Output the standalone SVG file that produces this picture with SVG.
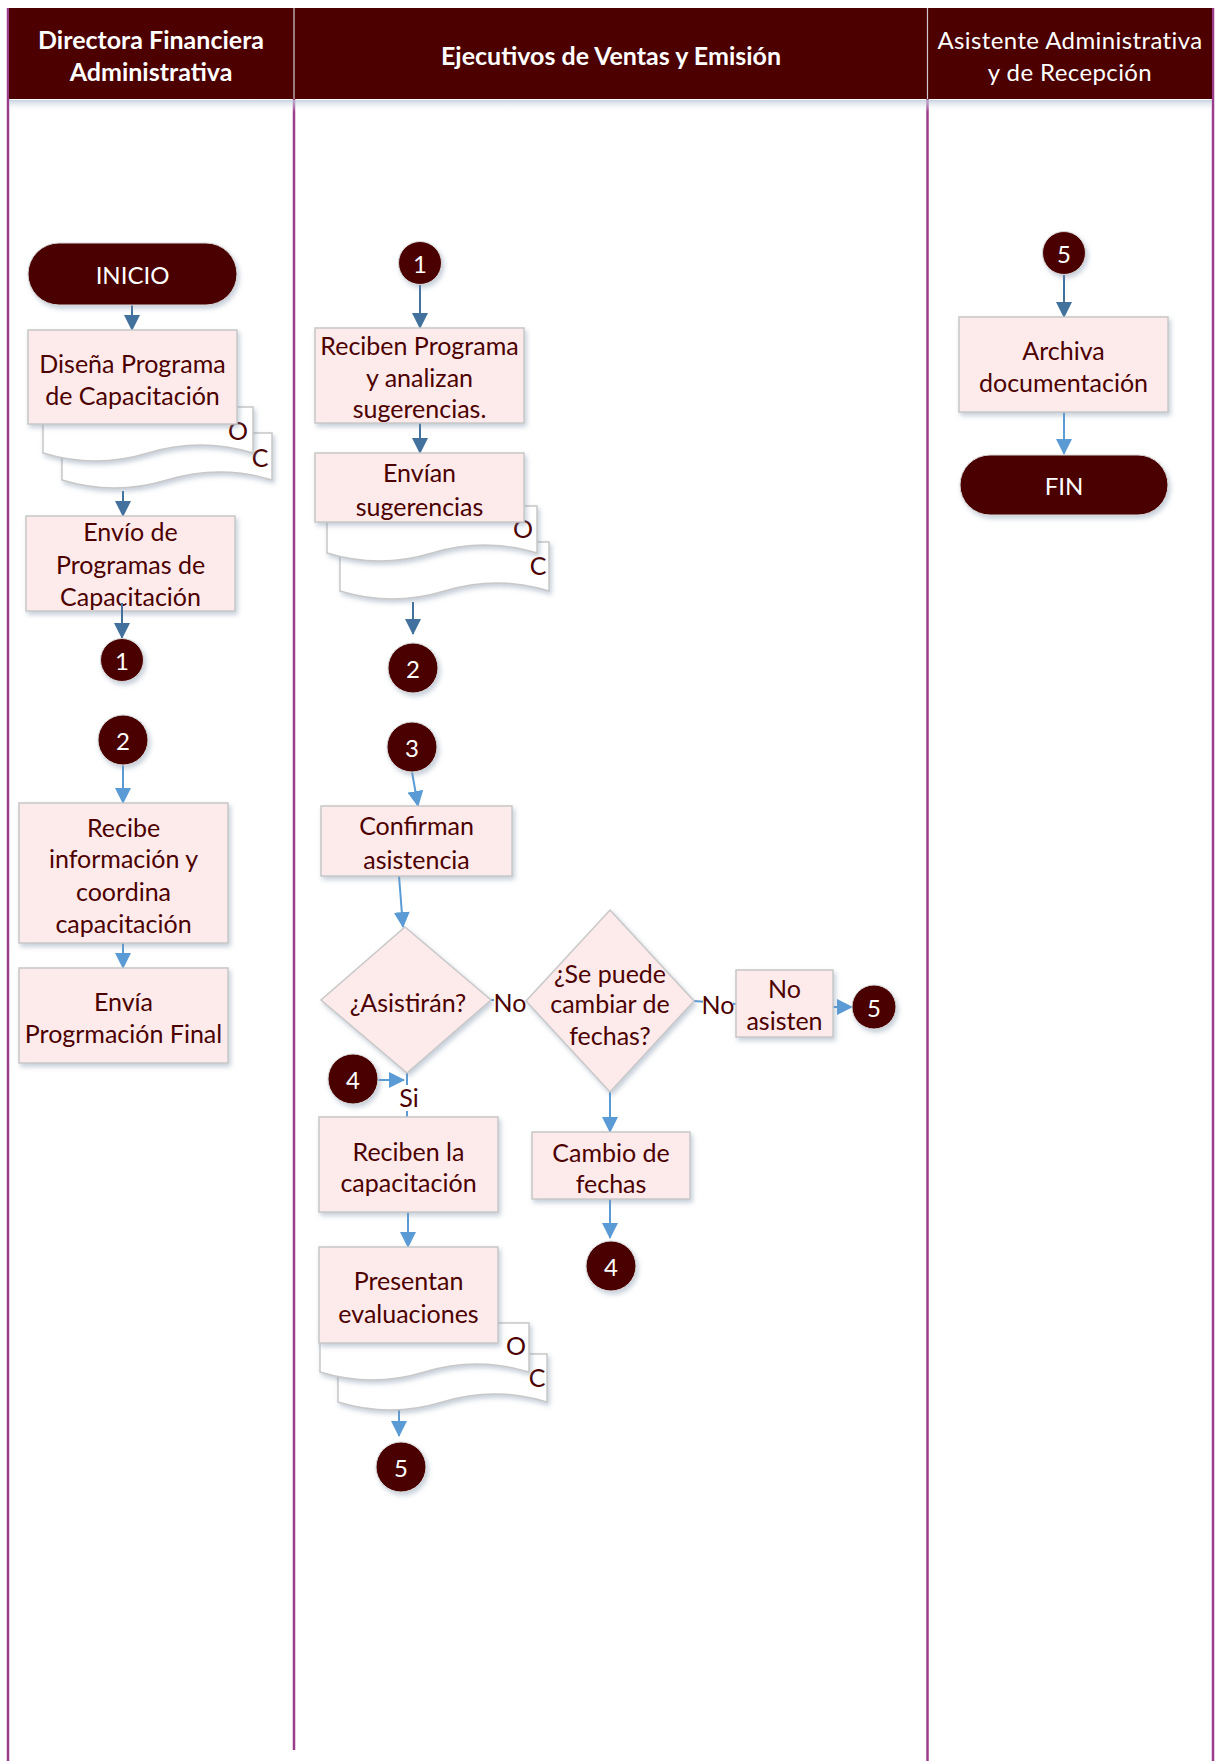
<svg xmlns="http://www.w3.org/2000/svg" width="1224" height="1761" viewBox="0 0 1224 1761">
  <style>
    .lane { stroke: #9b3c8c; stroke-width: 2.5; fill: none; }
    .hdr-div { stroke: #d0c8cc; stroke-width: 1.2; }
    .hdr-b { font-family: Lato, "Open Sans", sans-serif; font-weight: bold; font-size: 25px; fill: #ffffff; text-anchor: middle; dominant-baseline: central; }
    .hdr-r { font-family: Lato, "Open Sans", sans-serif; font-size: 24px; fill: #ffffff; text-anchor: middle; dominant-baseline: central; letter-spacing: 0.4px; }
    .proc { fill: #fdeaea; stroke: #c8c8c8; stroke-width: 1.5; }
    .doc { fill: #ffffff; stroke: #c8c8c8; stroke-width: 1.5; }
    .term { fill: #4c0000; stroke: #d8d8d8; stroke-width: 1; }
    .conn-circ { fill: #4c0000; stroke: #d8d8d8; stroke-width: 1; }
    .t { font-family: Lato, "Open Sans", sans-serif; font-size: 25px; fill: #4c0000; text-anchor: middle; dominant-baseline: central; }
    .tw { font-family: Lato, "Open Sans", sans-serif; font-size: 24px; fill: #ffffff; text-anchor: middle; dominant-baseline: central; }
    .dk { stroke: #41719c; stroke-width: 2; fill: none; marker-end: url(#ahDark); }
    .lt { stroke: #5b9bd5; stroke-width: 2; fill: none; marker-end: url(#ahLight); }
    .ltn { stroke: #5b9bd5; stroke-width: 2; fill: none; }
    .lbl-bg { fill: #ffffff; }
  </style>
  <defs>
    <marker id="ahDark" markerUnits="userSpaceOnUse" markerWidth="16" markerHeight="16" viewBox="0 0 16 16" refX="15" refY="8" orient="auto">
      <path d="M0,0 L16,8 L0,16 Z" fill="#41719c"/>
    </marker>
    <marker id="ahLight" markerUnits="userSpaceOnUse" markerWidth="16" markerHeight="16" viewBox="0 0 16 16" refX="15" refY="8" orient="auto">
      <path d="M0,0 L16,8 L0,16 Z" fill="#5b9bd5"/>
    </marker>
    <filter id="sh" x="-20%" y="-20%" width="140%" height="150%">
      <feDropShadow dx="2" dy="3" stdDeviation="2.5" flood-color="#7f93ab" flood-opacity="0.45"/>
    </filter>
    <linearGradient id="hdrShade" x1="0" y1="0" x2="0" y2="1">
      <stop offset="0" stop-color="#b9c6d6" stop-opacity="0.8"/>
      <stop offset="1" stop-color="#ffffff" stop-opacity="0"/>
    </linearGradient>
  </defs>

  <rect width="1224" height="1761" fill="#ffffff"/>

  <!-- swimlane borders -->
  <g id="lanes">
    <line class="lane" x1="8" y1="8" x2="8" y2="1761"/>
    <line class="lane" x1="294" y1="99" x2="294" y2="1750"/>
    <line class="lane" x1="927.5" y1="99" x2="927.5" y2="1761"/>
    <line class="lane" x1="1213" y1="8" x2="1213" y2="1761"/>
  </g>

  <!-- header band -->
  <g id="header">
    <rect x="9" y="100" width="1203" height="12" fill="url(#hdrShade)"/>
    <rect x="9" y="8" width="1203" height="91" fill="#4c0000"/>
    <line class="hdr-div" x1="294" y1="8" x2="294" y2="99"/>
    <line class="hdr-div" x1="927.5" y1="8" x2="927.5" y2="99"/>
    <text class="hdr-b" x="151" y="39">Directora Financiera</text>
    <text class="hdr-b" x="151" y="71">Administrativa</text>
    <text class="hdr-b" x="611" y="55">Ejecutivos de Ventas y Emisión</text>
    <text class="hdr-r" x="1070" y="39">Asistente Administrativa</text>
    <text class="hdr-r" x="1070" y="71">y de Recepción</text>
  </g>

  <!-- connectors -->
  <g id="connectors">
    <line class="dk" x1="132" y1="305" x2="132" y2="330"/>
    <line class="dk" x1="123" y1="491" x2="123" y2="516"/>
    <line class="lt" x1="123" y1="765" x2="123" y2="803"/>
    <line class="lt" x1="123" y1="943" x2="123" y2="968"/>
    <line class="dk" x1="420" y1="285" x2="420" y2="328"/>
    <line class="dk" x1="420" y1="423" x2="420" y2="453"/>
    <line class="dk" x1="413" y1="602" x2="413" y2="634"/>
    <line class="lt" x1="412" y1="772" x2="418" y2="806"/>
    <line class="lt" x1="399" y1="876" x2="403" y2="927"/>
    <line class="ltn" x1="491" y1="1000" x2="526" y2="1000"/>
    <line class="ltn" x1="694" y1="1001" x2="736" y2="1004"/>
    <line class="lt" x1="833" y1="1007" x2="852" y2="1007"/>
    <line class="lt" x1="378" y1="1080" x2="404" y2="1080"/>
    <line class="ltn" x1="407" y1="1073" x2="407" y2="1117"/>
    <line class="lt" x1="408" y1="1212" x2="408" y2="1247"/>
    <line class="lt" x1="399" y1="1408" x2="399" y2="1436"/>
    <line class="lt" x1="610" y1="1092" x2="610" y2="1132"/>
    <line class="lt" x1="610" y1="1199" x2="610" y2="1238"/>
    <line class="dk" x1="1064" y1="275" x2="1064" y2="317"/>
    <line class="lt" x1="1064" y1="412" x2="1064" y2="454"/>
    <!-- branch labels -->
    <rect class="lbl-bg" x="494" y="989" width="32" height="26"/>
    <text class="t" x="510" y="1002">No</text>
    <rect class="lbl-bg" x="703" y="991" width="30" height="26"/>
    <text class="t" x="718" y="1004">No</text>
    <rect class="lbl-bg" x="398" y="1085" width="22" height="26"/>
    <text class="t" x="409" y="1097">Si</text>
  </g>

  <!-- Directora Financiera Administrativa -->
  <g id="inicio">
    <rect class="term" x="28" y="243" width="209" height="62" rx="31" filter="url(#sh)"/>
    <text class="tw" x="132.5" y="274">INICIO</text>
  </g>
  <g id="disena-programa">
    <path class="doc" filter="url(#sh)" d="M62,433 H272 V480 Q219.5,464 167,480 T62,480 Z"/>
    <text class="t" x="260" y="457">C</text>
    <path class="doc" filter="url(#sh)" d="M43,407 H253 V453 Q200.5,437 148,453 T43,453 Z"/>
    <text class="t" x="238" y="430">O</text>
    <rect class="proc" x="28" y="330" width="209" height="94" filter="url(#sh)"/>
    <text class="t" x="132.5" y="363">Diseña Programa</text>
    <text class="t" x="132.5" y="395">de Capacitación</text>
  </g>
  <g id="envio-programas">
    <rect class="proc" x="26" y="516" width="209" height="95" filter="url(#sh)"/>
    <text class="t" x="130.5" y="531">Envío de</text>
    <text class="t" x="130.5" y="564">Programas de</text>
    <text class="t" x="130.5" y="596">Capacitación</text>
    <line class="dk" x1="122" y1="603" x2="122" y2="638"/>
  </g>
  <g id="conector-1a">
    <circle class="conn-circ" cx="122" cy="660" r="21.5" filter="url(#sh)"/>
    <text class="tw" x="122" y="660">1</text>
  </g>
  <g id="conector-2a">
    <circle class="conn-circ" cx="123" cy="740" r="25" filter="url(#sh)"/>
    <text class="tw" x="123" y="740">2</text>
  </g>
  <g id="recibe-informacion">
    <rect class="proc" x="19" y="803" width="209" height="140" filter="url(#sh)"/>
    <text class="t" x="123.5" y="827">Recibe</text>
    <text class="t" x="123.5" y="858">información y</text>
    <text class="t" x="123.5" y="891">coordina</text>
    <text class="t" x="123.5" y="923">capacitación</text>
  </g>
  <g id="envia-programacion">
    <rect class="proc" x="19" y="968" width="209" height="95" filter="url(#sh)"/>
    <text class="t" x="123.5" y="1001">Envía</text>
    <text class="t" x="123.5" y="1033">Progrmación Final</text>
  </g>

  <!-- Ejecutivos de Ventas y Emisión -->
  <g id="conector-1b">
    <circle class="conn-circ" cx="420" cy="263" r="21.5" filter="url(#sh)"/>
    <text class="tw" x="420" y="263">1</text>
  </g>
  <g id="reciben-programa">
    <rect class="proc" x="315" y="328" width="209" height="95" filter="url(#sh)"/>
    <text class="t" x="419.5" y="345">Reciben Programa</text>
    <text class="t" x="419.5" y="377">y analizan</text>
    <text class="t" x="419.5" y="408">sugerencias.</text>
  </g>
  <g id="envian-sugerencias">
    <path class="doc" filter="url(#sh)" d="M340,542 H549 V591 Q496.75,575 444.5,591 T340,591 Z"/>
    <text class="t" x="538" y="565">C</text>
    <path class="doc" filter="url(#sh)" d="M327,506 H537 V553 Q484.5,537 432,553 T327,553 Z"/>
    <text class="t" x="523" y="528">O</text>
    <rect class="proc" x="315" y="453" width="209" height="69" filter="url(#sh)"/>
    <text class="t" x="419.5" y="472">Envían</text>
    <text class="t" x="419.5" y="506">sugerencias</text>
  </g>
  <g id="conector-2b">
    <circle class="conn-circ" cx="413" cy="668" r="25" filter="url(#sh)"/>
    <text class="tw" x="413" y="668">2</text>
  </g>
  <g id="conector-3">
    <circle class="conn-circ" cx="412" cy="747" r="25" filter="url(#sh)"/>
    <text class="tw" x="412" y="747">3</text>
  </g>
  <g id="confirman-asistencia">
    <rect class="proc" x="321" y="806" width="191" height="70" filter="url(#sh)"/>
    <text class="t" x="416.5" y="825">Confirman</text>
    <text class="t" x="416.5" y="859">asistencia</text>
  </g>
  <g id="asistiran">
    <path class="proc" filter="url(#sh)" d="M405,927 L491,1000 L407,1073 L321,1000 Z"/>
    <text class="t" x="408" y="1002">¿Asistirán?</text>
  </g>
  <g id="cambiar-fechas">
    <path class="proc" filter="url(#sh)" d="M610,910 L694,1001 L610,1092 L526,1001 Z"/>
    <text class="t" x="610" y="973">¿Se puede</text>
    <text class="t" x="610" y="1003">cambiar de</text>
    <text class="t" x="610" y="1035">fechas?</text>
  </g>
  <g id="no-asisten">
    <rect class="proc" x="736" y="970" width="97" height="67" filter="url(#sh)"/>
    <text class="t" x="784.5" y="988">No</text>
    <text class="t" x="784.5" y="1020">asisten</text>
  </g>
  <g id="conector-5b">
    <circle class="conn-circ" cx="874" cy="1007" r="22" filter="url(#sh)"/>
    <text class="tw" x="874" y="1007">5</text>
  </g>
  <g id="conector-4a">
    <circle class="conn-circ" cx="353" cy="1079" r="25" filter="url(#sh)"/>
    <text class="tw" x="353" y="1079">4</text>
  </g>
  <g id="reciben-capacitacion">
    <rect class="proc" x="319" y="1117" width="179" height="95" filter="url(#sh)"/>
    <text class="t" x="408.5" y="1151">Reciben la</text>
    <text class="t" x="408.5" y="1182">capacitación</text>
  </g>
  <g id="presentan-evaluaciones">
    <path class="doc" filter="url(#sh)" d="M338,1354 H547 V1402 Q494.75,1386 442.5,1402 T338,1402 Z"/>
    <text class="t" x="537" y="1377">C</text>
    <path class="doc" filter="url(#sh)" d="M320,1323 H529 V1372 Q476.75,1356 424.5,1372 T320,1372 Z"/>
    <text class="t" x="516" y="1345">O</text>
    <rect class="proc" x="319" y="1247" width="179" height="96" filter="url(#sh)"/>
    <text class="t" x="408.5" y="1280">Presentan</text>
    <text class="t" x="408.5" y="1313">evaluaciones</text>
  </g>
  <g id="conector-5c">
    <circle class="conn-circ" cx="401" cy="1467" r="25" filter="url(#sh)"/>
    <text class="tw" x="401" y="1467">5</text>
  </g>
  <g id="cambio-fechas">
    <rect class="proc" x="532" y="1132" width="158" height="67" filter="url(#sh)"/>
    <text class="t" x="611" y="1152">Cambio de</text>
    <text class="t" x="611" y="1183">fechas</text>
  </g>
  <g id="conector-4b">
    <circle class="conn-circ" cx="611" cy="1266" r="25" filter="url(#sh)"/>
    <text class="tw" x="611" y="1266">4</text>
  </g>

  <!-- Asistente Administrativa y de Recepción -->
  <g id="conector-5a">
    <circle class="conn-circ" cx="1064" cy="253" r="21.5" filter="url(#sh)"/>
    <text class="tw" x="1064" y="253">5</text>
  </g>
  <g id="archiva-documentacion">
    <rect class="proc" x="959" y="317" width="209" height="95" filter="url(#sh)"/>
    <text class="t" x="1063.5" y="350">Archiva</text>
    <text class="t" x="1063.5" y="382">documentación</text>
  </g>
  <g id="fin">
    <rect class="term" x="960" y="455" width="208" height="60" rx="30" filter="url(#sh)"/>
    <text class="tw" x="1064" y="485">FIN</text>
  </g>
</svg>
